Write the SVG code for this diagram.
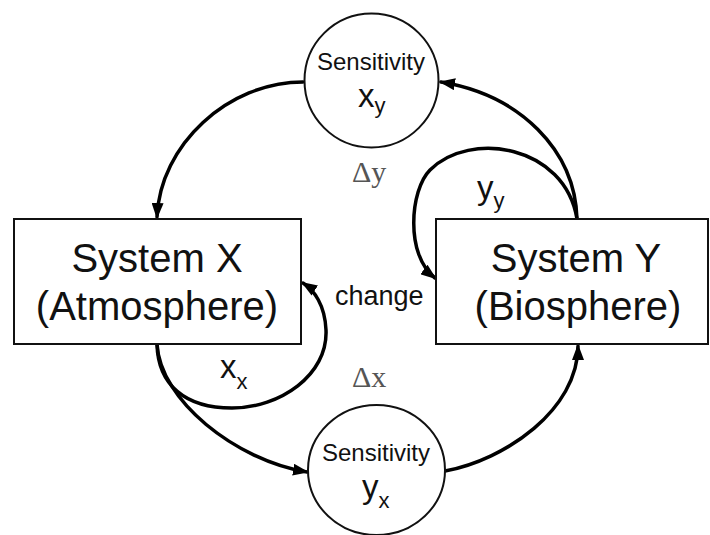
<svg xmlns="http://www.w3.org/2000/svg" width="710" height="535" viewBox="0 0 710 535">
<style>
.box{fill:#fff;stroke:#111;stroke-width:2}
.big{font-family:"Liberation Sans",Arial,sans-serif;font-size:40px;fill:#111;text-anchor:middle}
.sens{font-family:"Liberation Sans",Arial,sans-serif;font-size:24px;fill:#111;text-anchor:middle}
.var{font-family:"Liberation Sans",Arial,sans-serif;font-size:33px;fill:#111}
.sub{font-size:22px}
.delta{font-family:"Liberation Serif","Times New Roman",serif;font-size:30px;fill:#555}
.lbl{font-family:"Liberation Sans",Arial,sans-serif;font-size:27px;fill:#111}
.conn{fill:none;stroke:#000;stroke-width:3.5;stroke-linecap:round}
</style>
<defs>
<marker id="ah" markerUnits="userSpaceOnUse" markerWidth="16" markerHeight="12" refX="14" refY="6" orient="auto">
<path d="M0,0 L16,6 L0,12 z" fill="#000"/>
</marker>
</defs>
<g id="connectors">
<path class="conn" d="M303,82 C228,82 160,145 157,217" marker-end="url(#ah)"/>
<path class="conn" d="M577,219 C575,150 520,95 441,82" marker-end="url(#ah)"/>
<path class="conn" d="M577,219 C565,145 470,130 430,170 C410,190 405,255 435,278" marker-end="url(#ah)"/>
<path class="conn" d="M157,344 C158,385 185,408 232,408 C280,408 328,375 326,330 C325,305 314,290 303,283" marker-end="url(#ah)"/>
<path class="conn" d="M157,344 C160,400 235,460 307,472" marker-end="url(#ah)"/>
<path class="conn" d="M445,471 C505,460 578,410 578,346" marker-end="url(#ah)"/>
</g>
<g id="systemX">
<rect class="box" x="14" y="219" width="287" height="125"/>
<text class="big" x="157" y="272">System X</text>
<text class="big" x="157" y="320">(Atmosphere)</text>
</g>
<g id="systemY">
<rect class="box" x="436" y="219" width="272" height="125"/>
<text class="big" x="576" y="272">System Y</text>
<text class="big" x="578" y="320">(Biosphere)</text>
</g>
<g id="sensitivityXy">
<circle class="box" cx="371.5" cy="80.5" r="67"/>
<text class="sens" x="371" y="70">Sensitivity</text>
<text class="var" x="358" y="107">x<tspan class="sub" dy="6">y</tspan></text>
</g>
<g id="sensitivityYx">
<ellipse class="box" cx="376.5" cy="470" rx="68.5" ry="65"/>
<text class="sens" x="376" y="461">Sensitivity</text>
<text class="var" x="362" y="498">y<tspan class="sub" dy="10">x</tspan></text>
</g>
<g id="labels">
<text class="delta" x="352" y="182">Δy</text>
<text class="delta" x="352" y="387">Δx</text>
<text class="var" x="477" y="199">y<tspan class="sub" dy="9">y</tspan></text>
<text class="var" x="220" y="378">x<tspan class="sub" dy="11">x</tspan></text>
<text class="lbl" x="335" y="305">change</text>
</g>
</svg>
